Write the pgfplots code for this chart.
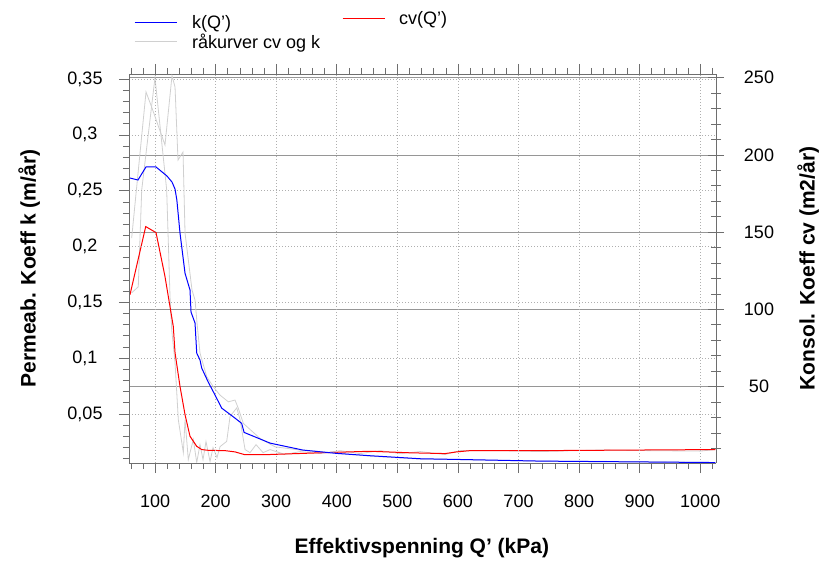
\documentclass[border=0pt]{standalone}
\usepackage{fontspec}
\setmainfont{Liberation Sans}
\usepackage{pgfplots}
\pgfplotsset{compat=1.18}
\definecolor{rawgray}{RGB}{208,208,208}
\definecolor{framegray}{RGB}{110,110,110}
\definecolor{gridsolid}{RGB}{150,150,150}
\definecolor{griddot}{RGB}{175,175,175}
\pgfplotsset{mylegend/.style={
  legend cell align=left,
  legend image code/.code={\draw[##1] (0pt,0pt) -- (42pt,0pt);},
  legend style={at={(axis description cs:0,1)}, anchor=south west,
    draw=none, fill=none, font=\fontsize{18}{20}\selectfont}}}
\begin{document}
\begin{tikzpicture}
\useasboundingbox (-129pt,-101pt) rectangle (698pt,463pt);
% ---------- right axis: cv ----------
\begin{axis}[
  scale only axis, width=587pt, height=389pt,
  xmin=57, xmax=1026, ymin=0.5, ymax=252.4,
  axis x line=none, axis y line*=right,
  ytick={50,100,150,200,250},
  minor ytick={10,20,...,250},
  ymajorgrids, major grid style={solid, gridsolid, line width=0.6pt},
  tick align=center, major tick length=16pt, minor tick length=10pt,
  tick style={framegray, line width=0.6pt},
  axis line style={framegray, line width=0.7pt},
  ticklabel style={font=\fontsize{18}{20}\selectfont},
  /pgf/number format/assume math mode=true,
  yticklabel style={anchor=center, xshift=35pt},
  ylabel={Konsol. Koeff cv (m2/år)},
  ylabel style={font=\fontsize{21}{24}\selectfont\bfseries, at={(axis description cs:1.157,0.5)}, anchor=center, rotate=0},
  mylegend,
  legend style={xshift=210pt, yshift=44pt, /tikz/every odd column/.style={column sep=12pt}},
]
\addplot[rawgray, line width=0.8pt, forget plot] table {
61.4 110.7
72.3 114.6
78 177.4
99.9 250
119.2 177.4
124.7 108.2
127.5 86.8
133 65.5
138.4 28.6
146.7 7.2
149.5 28.6
154.9 2.7
163.2 15.7
168.8 0.8
174.2 12.4
179.2 2.7
184.1 14.4
190.8 1.4
195.7 10.5
202.3 4.0
207.3 11.1
218.3 14.5
223.8 30.7
234.9 36.2
240.3 28.6
248.6 9.2
256.8 7.2
266.7 12.4
278.3 7.2
290 9.2
314.6 6.0
339.4 7.9
372.4 6.6
405.4 8.5
438.4 6.6
471.5 8.5
504.5 6.6
537.5 7.9
578.8 6.0
603.6 8.5
669.7 8.5
735.7 7.9
834.8 8.9
917.4 8.5
1000 8.2
1024.8 9.2
};
\addplot[red, line width=1pt] table {
58.6 109.4
84.6 153.6
101.6 149.7
116.4 121.3
130.1 88.9
133 71.9
141.2 50.1
149.5 31.8
157.7 17.8
168.8 11.3
177 9.2
188 8.7
215.5 8.5
232 7.7
247 6.0
290 6.0
372 7.1
455 8.1
521 7.1
579 6.6
598 7.7
620 8.5
736 8.5
1025 9.2
};
\addlegendentry{cv(Q')}
\end{axis}
% ---------- main axis: k ----------
\begin{axis}[
  scale only axis, width=587pt, height=389pt,
  xmin=57, xmax=1026, ymin=0.006, ymax=0.3545,
  axis y line*=left,
  xtick={100,200,300,400,500,600,700,800,900,1000},
  minor xtick={60,80,...,1020},
  ytick={0.05,0.1,0.15,0.2,0.25,0.3,0.35},
  minor ytick={0.01,0.02,...,0.35},
  scaled y ticks=false, scaled x ticks=false,
  xmajorgrids, ymajorgrids,
  major grid style={griddot, line width=0.6pt, dash pattern=on 1pt off 2pt},
  tick align=outside, major tick length=10pt, minor tick length=6pt,
  tick style={framegray, line width=0.6pt},
  axis line style={framegray, line width=0.7pt},
  ticklabel style={font=\fontsize{18}{20}\selectfont},
  /pgf/number format/fixed,
  /pgf/number format/precision=2,
  /pgf/number format/use comma,
  /pgf/number format/1000 sep={},
  /pgf/number format/assume math mode=true,
  yticklabel style={anchor=center, xshift=-34pt},
  xticklabel style={anchor=center, yshift=-28pt},
  xlabel={Effektivspenning Q' (kPa)},
  xlabel style={font=\fontsize{21}{24}\selectfont\bfseries, at={(axis description cs:0.499,-0.2185)}, anchor=center},
  ylabel={Permeab. Koeff k (m/år)},
  ylabel style={font=\fontsize{21}{24}\selectfont\bfseries, at={(axis description cs:-0.17,0.5)}, anchor=center},
  mylegend,
  legend style={xshift=2pt, yshift=20pt, /tikz/every odd column/.append style={column sep=13pt}},
]
\addplot[rawgray, line width=0.8pt, forget plot] table {
61.4 0.2075
85.1 0.3384
95 0.324
116.4 0.2909
128 0.353
133 0.3428
137.9 0.2774
146.2 0.2846
149.5 0.212
161 0.161
166 0.152
169.3 0.1314
174.2 0.1045
185.3 0.0833
196.2 0.0743
207.3 0.0668
221 0.0608
232 0.0624
237.5 0.0549
245.7 0.0415
273.3 0.0280
298 0.0205
339.4 0.0176
399 0.0149
455 0.0122
538 0.0095
604 0.0090
736 0.0077
901 0.0073
1024 0.0064
};
\addplot[blue, line width=1pt] table {
58.6 0.2613
71.8 0.2595
85 0.2712
101.6 0.2712
119.7 0.2631
128 0.2577
133 0.2514
136 0.2416
141.2 0.212
149.5 0.176
157.7 0.161
159.4 0.1412
166 0.1314
168.8 0.1045
174.2 0.0983
177 0.0911
187.5 0.0788
199 0.0669
210 0.0552
232 0.0462
243 0.0415
247 0.0334
290 0.0238
344 0.0176
400 0.0146
455 0.0125
538 0.0098
598 0.0092
736 0.0077
1025 0.0064
};
\addlegendentry{k(Q')}
\addlegendimage{rawgray, line width=1pt}
\addlegendentry{råkurver cv og k}
\end{axis}
\end{tikzpicture}
\end{document}
